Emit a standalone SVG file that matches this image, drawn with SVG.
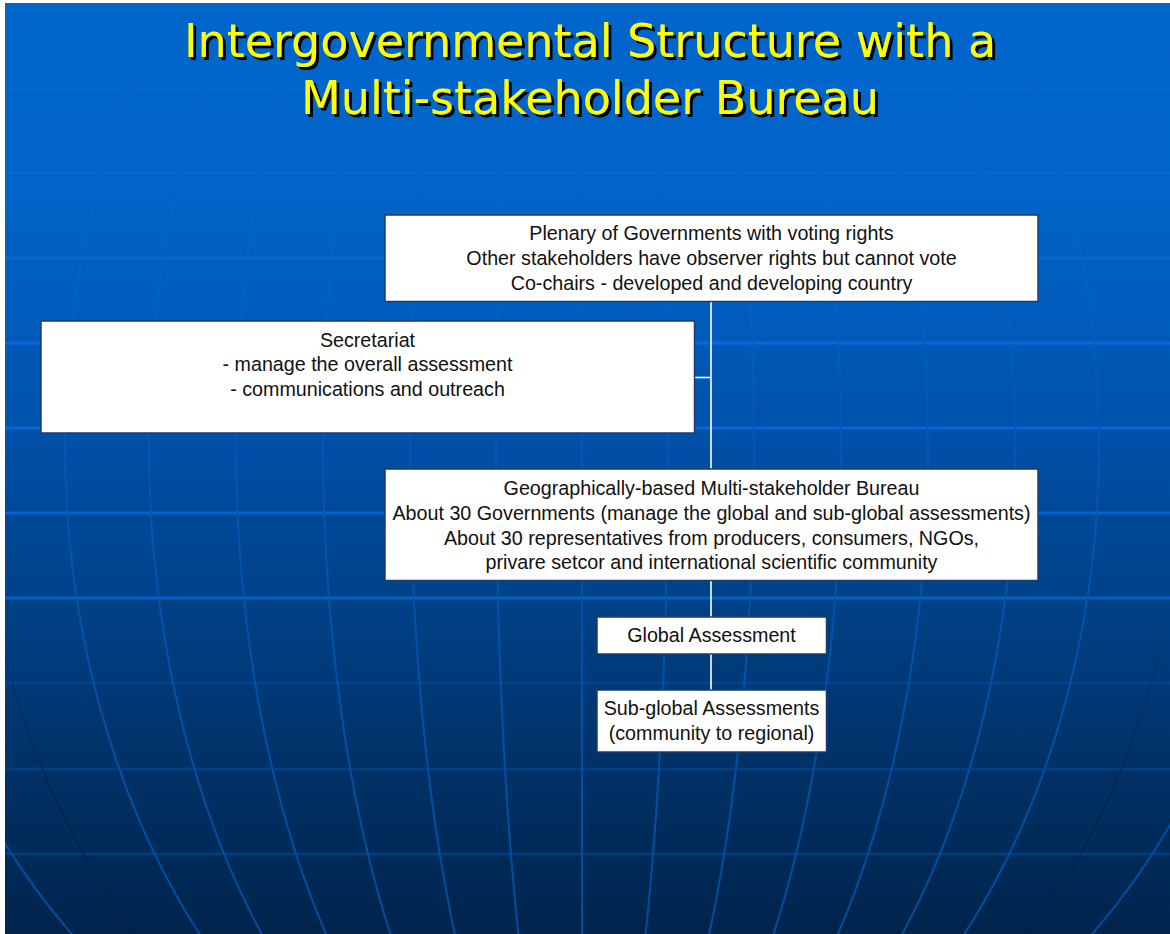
<svg xmlns="http://www.w3.org/2000/svg" width="1170" height="934" viewBox="0 0 1170 934">
<defs>
<linearGradient id="bg" x1="0" y1="3" x2="0" y2="934" gradientUnits="userSpaceOnUse">
<stop offset="0" stop-color="#0066cc"/>
<stop offset="0.2" stop-color="#0064c8"/>
<stop offset="0.33" stop-color="#005dbd"/>
<stop offset="0.5" stop-color="#004da2"/>
<stop offset="0.65" stop-color="#004186"/>
<stop offset="0.8" stop-color="#00336a"/>
<stop offset="1" stop-color="#00244c"/>
</linearGradient>
<linearGradient id="mer" x1="0" y1="0" x2="0" y2="934" gradientUnits="userSpaceOnUse">
<stop offset="0" stop-color="#0567cd"/>
<stop offset="0.3" stop-color="#0462c6"/>
<stop offset="0.45" stop-color="#0058b8"/>
<stop offset="1" stop-color="#004d9c"/>
</linearGradient>
<linearGradient id="dark" x1="0" y1="0" x2="0" y2="934" gradientUnits="userSpaceOnUse">
<stop offset="0" stop-color="#001f42" stop-opacity="0"/>
<stop offset="0.65" stop-color="#001f42" stop-opacity="0"/>
<stop offset="0.85" stop-color="#001f42" stop-opacity="0.5"/>
<stop offset="1" stop-color="#001f42" stop-opacity="0.6"/>
</linearGradient>
<filter id="shadow" x="-5%" y="-20%" width="110%" height="140%">
<feOffset in="SourceAlpha" dx="2.5" dy="2.5" result="o"/>
<feFlood flood-color="#000000"/>
<feComposite in2="o" operator="in" result="s"/>
<feMerge><feMergeNode in="s"/><feMergeNode in="SourceGraphic"/></feMerge>
</filter>
<clipPath id="frame"><rect x="5" y="3" width="1165" height="931"/></clipPath>
<style>
.box{fill:#ffffff;stroke:#1b3d6e;stroke-width:1.5}
.t{font-family:"Liberation Sans",Arial,sans-serif;font-size:19.7px;fill:#111111;text-anchor:middle}
.title{font-family:"DejaVu Sans",Verdana,sans-serif;font-size:46px;text-anchor:middle;fill:#ffff00}
.mer{fill:none;stroke:url(#mer);stroke-width:2}
.conn{stroke:#ffffff;stroke-width:1.6;fill:none}
</style>
</defs>
<rect x="0" y="0" width="1170" height="934" fill="#ffffff"/>
<rect x="5" y="3" width="1165" height="931" fill="url(#bg)"/>
<g id="grid" clip-path="url(#frame)">
<g stroke-width="3">
<line x1="5" y1="88" x2="1170" y2="88" stroke="#0569ce"/>
<line x1="5" y1="173" x2="1170" y2="173" stroke="#0669d0"/>
<line x1="5" y1="258" x2="1170" y2="258" stroke="#0a68d2"/>
<line x1="5" y1="343" x2="1170" y2="343" stroke="#0a6ad8"/>
<line x1="5" y1="428" x2="1170" y2="428" stroke="#0866d6"/>
<line x1="5" y1="513" x2="1170" y2="513" stroke="#0064d0"/>
<line x1="5" y1="598" x2="1170" y2="598" stroke="#0060ca"/>
<line x1="5" y1="683" x2="1170" y2="683" stroke="#00458c"/>
<line x1="5" y1="769" x2="1170" y2="769" stroke="#003f80"/>
<line x1="5" y1="854" x2="1170" y2="854" stroke="#003d7a"/>
</g>
<line x1="582" y1="0" x2="582" y2="934" class="mer"/>
<ellipse cx="582" cy="444" rx="86" ry="728" class="mer"/>
<ellipse cx="582" cy="444" rx="172" ry="728" class="mer"/>
<ellipse cx="582" cy="444" rx="259" ry="728" class="mer"/>
<ellipse cx="582" cy="444" rx="346" ry="728" class="mer"/>
<ellipse cx="582" cy="444" rx="433" ry="728" class="mer"/>
<ellipse cx="582" cy="444" rx="517" ry="728" class="mer"/>
<ellipse cx="582" cy="444" rx="603" ry="728" fill="none" stroke="url(#dark)" stroke-width="2"/>
<ellipse cx="582" cy="444" rx="690" ry="728" class="mer"/>
</g>
<g id="title" filter="url(#shadow)">
<text class="title" x="590" y="57">Intergovernmental Structure with a</text>
<text class="title" x="590" y="114">Multi-stakeholder Bureau</text>
</g>
<g id="connectors">
<line class="conn" x1="711" y1="302" x2="711" y2="469"/>
<line class="conn" x1="695" y1="377.5" x2="711" y2="377.5"/>
<line class="conn" x1="711" y1="581" x2="711" y2="617"/>
<line class="conn" x1="711" y1="654" x2="711" y2="690"/>
</g>
<g id="plenary">
<rect class="box" x="385" y="215" width="653" height="86.5"/>
<text class="t" x="711.5" y="240">Plenary of Governments with voting rights</text>
<text class="t" x="711.5" y="265">Other stakeholders have observer rights but cannot vote</text>
<text class="t" x="711.5" y="290">Co-chairs - developed and developing country</text>
</g>
<g id="secretariat">
<rect class="box" x="41" y="321" width="653.5" height="112"/>
<text class="t" x="367.5" y="347">Secretariat</text>
<text class="t" x="367.5" y="371">- manage the overall assessment</text>
<text class="t" x="367.5" y="396">- communications and outreach</text>
</g>
<g id="bureau">
<rect class="box" x="385" y="469" width="653" height="111.5"/>
<text class="t" x="711.5" y="495">Geographically-based Multi-stakeholder Bureau</text>
<text class="t" x="711.5" y="520">About 30 Governments (manage the global and sub-global assessments)</text>
<text class="t" x="711.5" y="544.5">About 30 representatives from producers, consumers, NGOs,</text>
<text class="t" x="711.5" y="569">privare setcor and international scientific community</text>
</g>
<g id="global">
<rect class="box" x="597" y="617" width="229.5" height="37"/>
<text class="t" x="711.5" y="642">Global Assessment</text>
</g>
<g id="subglobal">
<rect class="box" x="597" y="690" width="229.5" height="62"/>
<text class="t" x="711.5" y="715">Sub-global Assessments</text>
<text class="t" x="711.5" y="740">(community to regional)</text>
</g>
</svg>
